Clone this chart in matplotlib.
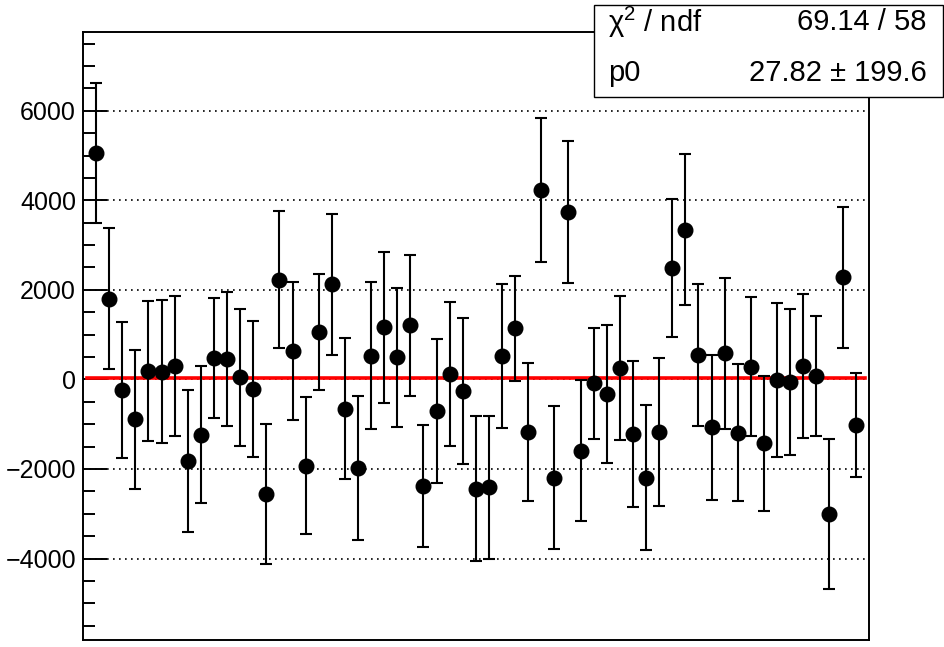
import matplotlib
matplotlib.use("Agg")
import matplotlib.pyplot as plt
from matplotlib.ticker import MultipleLocator, FixedLocator
from matplotlib.patches import Rectangle
import numpy as np

plt.rcParams['font.family'] = ['Liberation Sans', 'DejaVu Sans']
plt.rcParams['mathtext.fontset'] = 'custom'
plt.rcParams['mathtext.rm'] = 'Liberation Sans'
plt.rcParams['mathtext.it'] = 'Liberation Sans:italic'

# bin centres 1..59, fitted with a constant p0
bins = np.arange(1, 60)
values = [5065, 1807, -230, -892, 193, 171, 297, -1814, -1234, 476,
          461, 45, -216, -2558, 2231, 639, -1926, 1063, 2126, -654,
          -1985, 528, 1167, 491, 1212, -2379, -706, 119, -260, -2439,
          -2409, 520, 1138, -1167, 4223, -2193, 3740, -1591, -89, -327,
          260, -1212, -2193, -1175, 2483, 3346, 550, -1071, 580, -1190,
          283, -1428, -15, -67, 297, 82, -3004, 2283, -1019]
errors = [1563, 1570, 1515, 1547, 1565, 1595, 1558, 1588, 1535, 1342,
          1502, 1532, 1517, 1572, 1528, 1542, 1535, 1298, 1576, 1573,
          1610, 1640, 1688, 1554, 1577, 1364, 1606, 1617, 1636, 1625,
          1603, 1606, 1182, 1540, 1606, 1600, 1584, 1580, 1232, 1536,
          1614, 1628, 1621, 1647, 1540, 1685, 1584, 1612, 1684, 1531,
          1550, 1510, 1725, 1630, 1610, 1335, 1680, 1578, 1152]
p0 = 27.82
p0_err = 199.6
chi2 = 69.14
ndf = 58
fit_range = [0.3, 59.7]
yticks = [-4000, -2000, 0, 2000, 4000, 6000]

fig = plt.figure(figsize=(9.45, 6.47), dpi=100)
ax = fig.add_axes([83 / 945, 7 / 647, 785.7 / 945, 608 / 647])

ax.set_xlim(0, 60)
ax.set_ylim(-5820, 7760)

for y in yticks:
    ax.axhline(y, color='black', lw=1.2, linestyle=(0, (1, 2.6)), zorder=1)

ax.plot(fit_range, [p0, p0], color='red', lw=2.6, zorder=2)

ax.errorbar(bins, values, yerr=errors, fmt='o', color='black', ms=10.5,
            elinewidth=1.5, capsize=4, capthick=1.5, zorder=3)

ax.yaxis.set_major_locator(FixedLocator(yticks))
ax.yaxis.set_minor_locator(MultipleLocator(500))
ax.set_xticks([])
ax.tick_params(axis='y', which='major', direction='in', length=17, width=1.4,
               labelsize=18, pad=5)
ax.tick_params(axis='y', which='minor', direction='in', length=8.5, width=1.4)
for s in ax.spines.values():
    s.set_linewidth(1.4)

# stats box
box = Rectangle((594 / 945, 1 - 97 / 647), 349 / 945, 92 / 647,
                transform=fig.transFigure, facecolor='white',
                edgecolor='black', lw=1.0, zorder=10)
fig.patches.append(box)
fig.text(608 / 945, 1 - 22 / 647, r'$\mathrm{\chi}^{2}$ / ndf', fontsize=21,
         ha='left', va='center', zorder=11)
fig.text(927 / 945, 1 - 22 / 647, f'{chi2:.2f} / {ndf}', fontsize=21,
         ha='right', va='center', zorder=11)
fig.text(608 / 945, 1 - 73 / 647, 'p0', fontsize=21,
         ha='left', va='center', zorder=11)
fig.text(927 / 945, 1 - 73 / 647, f'{p0:.2f} \u00b1 {p0_err:.1f}', fontsize=21,
         ha='right', va='center', zorder=11)

fig.savefig('out.png', dpi=100)
